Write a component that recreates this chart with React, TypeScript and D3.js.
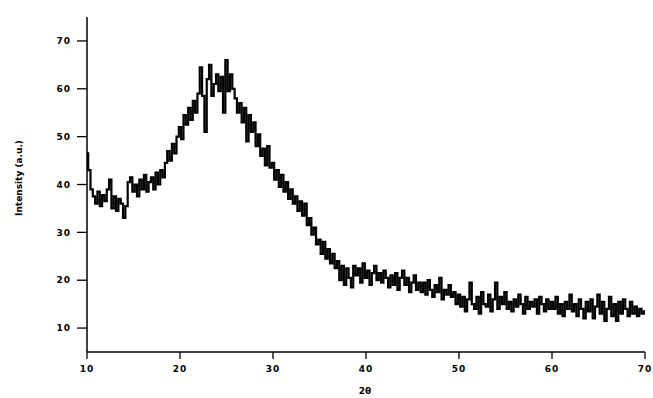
import React from "react";
import * as d3 from "d3";

const X_START = 10;
const X_STEP = 0.25;
const intensity: number[] = [
  46.5, 43, 39, 37.5,
  36, 38.5, 35.5, 37.8,
  36.5, 39, 41, 35,
  37.5, 34.5, 37, 36,
  33, 35.5, 40.5, 41.5,
  38.5, 40, 37.5, 41,
  39, 42, 38.5, 40.5,
  41.5, 39, 42.5, 40,
  43, 41.5, 44.5, 47,
  45, 48.5, 46.5, 50,
  52, 49.5, 54.5, 52.5,
  56, 53.5, 57.5, 55,
  59, 64.5, 58.5, 51,
  62, 65, 58.5, 61,
  63, 59.5, 62.5, 55,
  66, 59.5, 63, 60,
  58, 55, 57, 53,
  56, 49, 54.5, 51,
  53, 48, 50.5, 46,
  47.5, 44, 48, 43.5,
  44.5, 41, 43, 39.5,
  42, 38.5, 40.5, 37,
  39, 36, 37.5, 34.5,
  36.5, 33.5, 36, 31.5,
  33, 29.5, 31, 27.5,
  28.5, 25.5, 28, 24.5,
  26.5, 23.5, 25.5, 22.5,
  24, 20, 23, 19,
  22.5, 20.5, 18.5, 23,
  21, 22.5, 19.5, 23.5,
  20.5, 22, 19, 21.5,
  23, 20, 21.5, 19.5,
  22, 20.5, 18.5, 21,
  19, 21.5, 18, 20.5,
  22, 19, 20.5, 17.5,
  19.5, 21, 18, 19.5,
  17.5, 19.5, 17, 20,
  18, 16.5, 19, 17.5,
  20.5, 16, 18, 17,
  19, 16.5, 17.5, 15,
  17, 14.5, 16.5, 13.5,
  16, 19.5, 15, 14,
  16.5, 13, 17.5, 15,
  14.5, 17, 13.5, 16,
  19.5, 14, 16.5, 15,
  17.5, 14, 15.5, 13.5,
  16, 14.5, 17, 15,
  13, 16.5, 14, 15.5,
  14.5, 16, 13, 16.5,
  15, 13.5, 16, 14,
  15.5, 14, 16.5, 13,
  15, 12.5, 15.5, 14,
  17, 13.5, 15, 12.5,
  16, 14, 12, 15.5,
  13.5, 16, 12, 14.5,
  17, 13, 15.5, 11.5,
  14, 16.5, 12.5, 15,
  11.5, 15.5, 13, 16,
  14, 12.5, 15.5, 13,
  14.5, 12.5, 14, 13,
  13.5,
];
const xTicks = [10, 20, 30, 40, 50, 60, 70];
const yTicks = [10, 20, 30, 40, 50, 60, 70];
const xLabel = "2θ";
const yLabel = "Intensity (a.u.)";

export default function App() {
  const W = 653, H = 398;
  const x = d3.scaleLinear().domain([10, 70]).range([87, 645]);
  const y = d3.scaleLinear().domain([5, 75]).range([352, 17]);
  const pts = intensity.map((v, i) => [X_START + i * X_STEP, v] as [number, number]);
  const line = d3.line<[number, number]>().x(d => x(d[0])).y(d => y(d[1])).curve(d3.curveStep);
  const font = "'DejaVu Sans', sans-serif";
  return (
    <svg width={W} height={H} style={{ position: "absolute", left: 0, top: 0, background: "#fff" }}>
      <path d={line(pts) || ""} fill="none" stroke="#000" strokeWidth={2.2} strokeLinejoin="miter" />
      <line x1={x(10)} x2={x(10)} y1={17} y2={352} stroke="#000" strokeWidth={1.5} />
      <line x1={x(10)} x2={x(70)} y1={352} y2={352} stroke="#000" strokeWidth={1.5} />
      {yTicks.map(t => (
        <g key={"y" + t}>
          <line x1={77} x2={87} y1={y(t)} y2={y(t)} stroke="#000" strokeWidth={1.3} />
          <text x={71} y={y(t)} dy="0.35em" textAnchor="end" fontFamily={font} fontWeight="bold" fontSize={9} letterSpacing={1}>{t}</text>
        </g>
      ))}
      {xTicks.map(t => (
        <g key={"x" + t}>
          <line x1={x(t)} x2={x(t)} y1={352} y2={359} stroke="#000" strokeWidth={1.3} />
          <text x={x(t)} y={369} dy="0.35em" textAnchor="middle" fontFamily={font} fontWeight="bold" fontSize={9} letterSpacing={1}>{t}</text>
        </g>
      ))}
      <text x={365} y={391} dy="0.35em" textAnchor="middle" fontFamily={font} fontWeight="bold" fontSize={9}>{xLabel}</text>
      <text transform="translate(19,178) rotate(-90)" textAnchor="middle" dy="0.35em" fontFamily={font} fontWeight="bold" fontSize={9}>{yLabel}</text>
    </svg>
  );
}
